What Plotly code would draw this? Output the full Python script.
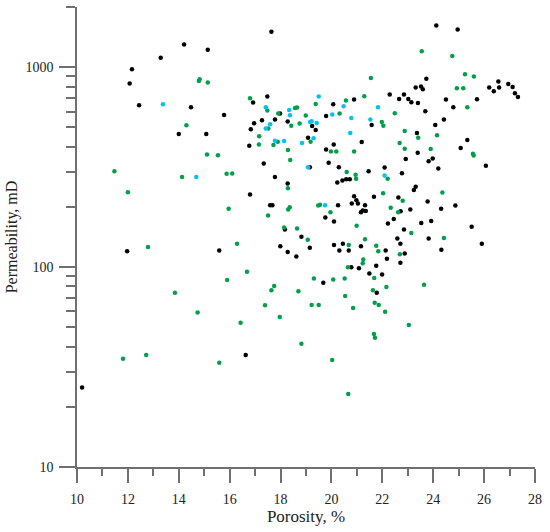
import plotly.graph_objects as go
import math

# ---- data (porosity %, permeability mD) ----
black_porosity = [17.64, 14.21, 15.14, 13.29, 12.16, 12.07, 12.44, 14.48, 15.78, 14.00,
                  15.08, 16.77, 16.83, 16.96, 16.92, 17.48, 17.27, 17.78, 17.34, 17.78,
                  16.80, 17.59, 17.68, 11.97, 15.59, 16.63, 10.20, 19.68, 20.78, 21.08,
                  21.49, 21.99, 21.78, 21.76, 24.12, 24.96, 23.73, 23.31, 23.52, 23.59,
                  22.29, 22.66, 22.85, 23.02, 23.14, 23.40, 20.89, 20.07, 19.79, 17.98,
                  18.28, 19.24, 19.38, 19.08, 21.58, 23.69, 24.50, 24.79, 25.72, 24.08,
                  24.42, 26.20, 26.38, 26.56, 26.59, 26.95, 27.12, 27.21, 27.33, 23.36,
                  21.19, 20.09, 19.79, 23.39, 22.92, 23.98, 23.82, 25.34, 25.08, 26.07,
                  24.20, 19.89, 20.29, 19.15, 21.46, 22.09, 22.77, 20.23, 20.43, 20.58,
                  20.72, 18.28, 23.31, 23.24, 21.67, 20.89, 20.98, 21.04, 20.80, 20.26,
                  21.32, 21.23, 21.16, 21.35, 22.63, 22.72, 23.10, 23.78, 24.31, 24.87,
                  19.76, 20.10, 22.45, 22.22, 22.85, 23.53, 23.92, 25.51, 23.82, 25.91,
                  24.32, 18.17, 18.82, 17.99, 18.28, 19.15, 18.62, 20.10, 20.45, 20.31,
                  20.68, 21.16, 22.13, 22.59, 22.71, 22.88, 22.71, 22.18]
black_perm = [1503, 1300, 1222, 1114, 977, 828, 645, 630, 577, 463,
              463, 405, 489, 524, 665, 713, 542, 548, 330, 282,
              231, 204, 204, 120, 121, 36.3, 25.0, 83.6, 99.8, 98.6,
              92.8, 91.7, 74.5, 101.7, 1618, 1545, 874, 791, 800, 776,
              730, 693, 730, 693, 668, 662, 689, 652, 570, 586,
              535, 508, 485, 444, 514, 602, 689, 630, 691, 514,
              548, 791, 758, 848, 791, 825, 796, 741, 710, 469,
              422, 410, 387, 373, 347, 349, 338, 432, 394, 321,
              311, 333, 316, 316, 302, 315, 295, 265, 271, 275,
              275, 262, 252, 243, 225, 226, 216, 208, 208, 204,
              204, 192, 188, 191, 223, 190, 194, 213, 196, 203,
              177, 169, 174, 165, 154, 166, 170, 159, 139, 131,
              122, 154, 142, 127, 119, 125, 113, 129, 131, 121,
              121, 127, 121, 139, 131, 117, 105, 110]

green_porosity = [14.82, 14.79, 15.14, 16.80, 17.48, 14.30, 17.52, 17.16, 17.15, 17.72,
                  15.11, 15.54, 11.47, 14.13, 15.88, 16.10, 12.00, 15.96, 17.51, 12.79,
                  16.29, 16.68, 15.90, 13.85, 17.64, 17.75, 17.39, 14.74, 16.43, 11.81,
                  12.72, 15.59, 19.31, 20.07, 20.52, 21.68, 20.65, 18.70, 20.54, 21.63,
                  22.16, 23.64, 19.22, 19.50, 20.85, 21.70, 21.86, 22.11, 17.97, 23.04,
                  21.67, 21.71, 18.82, 20.03, 20.66, 23.55, 24.75, 21.55, 25.25, 25.60,
                  24.93, 25.18, 25.34, 21.29, 20.57, 19.38, 20.32, 22.49, 21.98, 22.04,
                  18.57, 18.65, 17.91, 18.99, 18.75, 18.42, 19.18, 17.89, 18.29, 18.38,
                  19.98, 20.19, 20.89, 22.88, 23.41, 22.68, 22.88, 24.15, 23.90, 25.56,
                  25.59, 20.60, 20.95, 20.97, 22.21, 18.29, 22.03, 24.36, 22.80, 18.36,
                  18.30, 19.48, 19.55, 19.96, 22.33, 22.62, 18.14, 18.65, 20.99, 19.07,
                  21.32, 23.14, 24.42, 20.68, 21.76, 21.84, 22.69, 21.25, 21.23]
green_perm = [871, 854, 838, 699, 607, 512, 493, 451, 411, 408,
              366, 363, 302, 282, 293, 294, 237, 196, 181, 126,
              131, 94.9, 86.3, 74.5, 76.5, 80.5, 64.4, 59.3, 52.7, 34.8,
              36.3, 33.2, 87.6, 86.6, 87.6, 88.3, 99.8, 75.6, 71.7, 76.5,
              79.6, 81.7, 64.7, 64.7, 62.4, 66.4, 64.7, 59.8, 56.3, 51.3,
              46.3, 44.3, 41.4, 34.3, 23.2, 1203, 1139, 884, 922, 898,
              785, 785, 630, 716, 681, 655, 586, 588, 532, 510,
              625, 628, 586, 573, 522, 510, 424, 424, 385, 343,
              379, 379, 379, 479, 444, 417, 391, 456, 390, 369,
              362, 299, 290, 277, 277, 248, 234, 236, 215, 199,
              194, 203, 205, 188, 198, 188, 158, 156, 161, 137,
              138, 148, 140, 129, 128, 120, 116, 109, 104.5]

cyan_porosity = [13.38, 17.42, 17.42, 17.59, 17.78, 14.69, 19.50, 20.48, 21.83, 20.03,
                 20.78, 21.53, 18.34, 18.37, 19.16, 19.22, 19.42, 20.74, 19.30, 18.84,
                 18.14, 19.08, 22.09, 19.75]
cyan_perm = [652, 630, 493, 518, 429, 282, 713, 638, 630, 579,
             557, 548, 611, 575, 532, 536, 526, 469, 441, 417,
             427, 316, 287, 204]

x_ticks = [10, 12, 14, 16, 18, 20, 22, 24, 26, 28]
y_ticks = [10, 100, 1000]
y_minor = [v * m for m in (10, 100, 1000) for v in range(2, 10) if v * m <= 2000]

BLACK = "#000000"
GREEN = "#00a04a"
CYAN = "#00c3f0"
AXIS = "#707070"
TXT = "#222222"
FONT = "Liberation Serif"

fig = go.Figure()
for xs, ys, col in ((black_porosity, black_perm, BLACK),
                    (green_porosity, green_perm, GREEN),
                    (cyan_porosity, cyan_perm, CYAN)):
    fig.add_trace(go.Scatter(x=xs, y=ys, mode="markers",
                             marker=dict(color=col, size=4.5, line=dict(width=0)),
                             showlegend=False, hoverinfo="skip"))

fig.update_layout(
    width=550, height=532,
    margin=dict(l=77, r=15, t=7, b=65, autoexpand=False),
    paper_bgcolor="white", plot_bgcolor="white",
    font=dict(family=FONT, size=14, color=TXT),
)
fig.update_xaxes(
    range=[10, 28], showgrid=False, zeroline=False, automargin=False,
    showline=True, linecolor=AXIS, linewidth=1.5,
    ticks="outside", ticklen=14, tickwidth=1.5, tickcolor=AXIS,
    tickmode="array", tickvals=x_ticks, ticktext=[str(v) for v in x_ticks],
    tickfont=dict(family=FONT, size=14, color=TXT), ticklabelstandoff=4,
    minor=dict(ticks="outside", ticklen=7, tickwidth=1.5, tickcolor=AXIS,
               dtick=1, showgrid=False),
    title=dict(text="Porosity, %", font=dict(family=FONT, size=17, color=TXT),
               standoff=4),
)
fig.update_yaxes(
    type="log", range=[1, math.log10(2000)], showgrid=False, zeroline=False,
    automargin=False,
    showline=True, linecolor=AXIS, linewidth=1.5,
    ticks="outside", ticklen=16, tickwidth=1.5, tickcolor=AXIS,
    tickmode="array", tickvals=y_ticks, ticktext=[str(v) for v in y_ticks],
    tickfont=dict(family=FONT, size=14, color=TXT), ticklabelstandoff=3,
    minor=dict(ticks="outside", ticklen=9, tickwidth=1.5, tickcolor=AXIS,
               tickmode="array", tickvals=y_minor, showgrid=False),
    title=dict(text="Permeability, mD", font=dict(family=FONT, size=16, color=TXT),
               standoff=4),
)

fig.write_html("out.html",
               config={"displayModeBar": False},
               post_script="document.body.style.margin='0';document.body.style.padding='0';")
